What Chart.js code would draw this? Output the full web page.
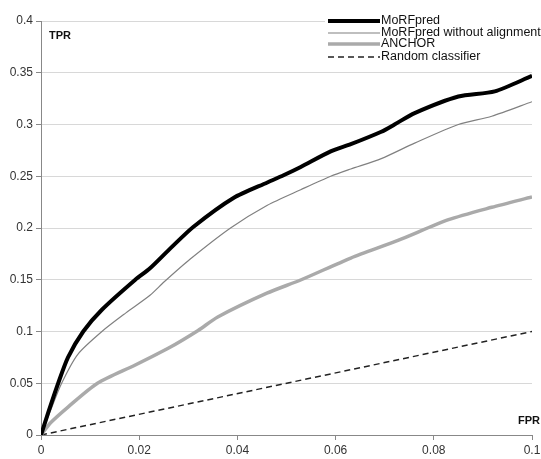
<!DOCTYPE html>
<html>
<head>
<meta charset="utf-8">
<script src="https://cdn.jsdelivr.net/npm/chart.js@4.4.1/dist/chart.umd.min.js"></script>
<style>
  body { margin: 0; background: #fff; }
  canvas { display: block; }
</style>
</head>
<body>
<canvas id="rocChart" width="541" height="459"></canvas>
<script>
// Values (FPR on x, TPR on y)
const seriesNames = ['MoRFpred', 'MoRFpred without alignment', 'ANCHOR', 'Random classifier'];

const morfFpr = [0, 0.0015, 0.0035, 0.0055, 0.0086, 0.0124, 0.0192, 0.0222, 0.0265, 0.031, 0.0392, 0.0461, 0.0494, 0.0529, 0.059, 0.0631, 0.0693, 0.072, 0.0761, 0.085, 0.0924, 0.1];
const morfTpr = [0, 0.022, 0.05, 0.075, 0.10, 0.121, 0.15, 0.161, 0.181, 0.201, 0.229, 0.244, 0.251, 0.259, 0.274, 0.281, 0.293, 0.30, 0.311, 0.327, 0.332, 0.347];

const noAlignFpr = [0, 0.0018, 0.0042, 0.0075, 0.0124, 0.0173, 0.0222, 0.0251, 0.0304, 0.0386, 0.0461, 0.0529, 0.059, 0.0631, 0.0693, 0.0761, 0.085, 0.0918, 0.1];
const noAlignTpr = [0, 0.022, 0.05, 0.078, 0.10, 0.118, 0.135, 0.148, 0.170, 0.20, 0.222, 0.237, 0.25, 0.257, 0.267, 0.282, 0.30, 0.308, 0.322];

const anchorFpr = [0, 0.002, 0.0055, 0.0115, 0.0192, 0.026, 0.032, 0.036, 0.046, 0.053, 0.0631, 0.0727, 0.083, 0.0918, 0.1];
const anchorTpr = [0, 0.012, 0.027, 0.05, 0.0676, 0.084, 0.101, 0.114, 0.137, 0.150, 0.171, 0.188, 0.208, 0.220, 0.230];

const randomFpr = [0, 0.1];
const randomTpr = [0, 0.1];

const xTicks = [0, 0.02, 0.04, 0.06, 0.08, 0.1];
const yTicks = [0, 0.05, 0.1, 0.15, 0.2, 0.25, 0.3, 0.35, 0.4];

function toPoints(xs, ys) {
    return xs.map((x, i) => ({ x: x, y: ys[i] }));
}

const fmt = v => parseFloat(Number(v).toFixed(2)).toString();

// Legend + axis captions drawn by hand to sit like the original
const chartExtras = {
    id: 'chartExtras',
    afterDraw(chart) {
        const ctx = chart.ctx;
        ctx.save();
        ctx.fillStyle = '#fff';
        ctx.fillRect(325, 13, 216, 50);

        const rowsY = [21, 33, 44, 57];
        chart.data.datasets.forEach((ds, i) => {
            const y = rowsY[i];
            ctx.beginPath();
            ctx.strokeStyle = ds.borderColor;
            ctx.lineWidth = ds.borderWidth;
            ctx.setLineDash(ds.borderDash || []);
            ctx.moveTo(328, y);
            ctx.lineTo(380, y);
            ctx.stroke();
            ctx.setLineDash([]);
            ctx.fillStyle = '#111';
            ctx.font = '12.5px "Liberation Sans", Arial, sans-serif';
            ctx.textBaseline = 'middle';
            ctx.textAlign = 'left';
            ctx.fillText(ds.label, 381, y);
        });

        ctx.fillStyle = '#111';
        ctx.font = 'bold 11px "Liberation Sans", Arial, sans-serif';
        ctx.textBaseline = 'alphabetic';
        ctx.fillText('TPR', 49, 39);
        ctx.fillText('FPR', 518, 424);
        ctx.restore();
    }
};

const ctx = document.getElementById('rocChart').getContext('2d');

const rocChart = new Chart(ctx, {
    type: 'line',
    data: {
        datasets: [
            {
                label: seriesNames[0],
                data: toPoints(morfFpr, morfTpr),
                borderColor: '#000',
                borderWidth: 4,
                pointRadius: 0,
                tension: 0.25
            },
            {
                label: seriesNames[1],
                data: toPoints(noAlignFpr, noAlignTpr),
                borderColor: '#808080',
                borderWidth: 1.2,
                pointRadius: 0,
                tension: 0.25
            },
            {
                label: seriesNames[2],
                data: toPoints(anchorFpr, anchorTpr),
                borderColor: '#aaaaaa',
                borderWidth: 3.5,
                pointRadius: 0,
                tension: 0.25
            },
            {
                label: seriesNames[3],
                data: toPoints(randomFpr, randomTpr),
                borderColor: '#222',
                borderWidth: 1.5,
                borderDash: [6, 4],
                pointRadius: 0
            }
        ]
    },
    options: {
        responsive: false,
        animation: false,
        layout: {
            padding: { top: 21, right: 9, left: 0, bottom: 0 }
        },
        scales: {
            x: {
                type: 'linear',
                min: 0,
                max: 0.1,
                afterFit: scale => {
                    scale.height = 24;
                    scale.paddingRight = 0;
                    scale.paddingLeft = 0;
                },
                afterBuildTicks: scale => { scale.ticks = xTicks.map(v => ({ value: v })); },
                ticks: {
                    callback: v => fmt(v),
                    color: '#333',
                    padding: 3,
                    maxRotation: 0,
                    font: { family: '"Liberation Sans", Arial, sans-serif', size: 12 }
                },
                grid: {
                    drawOnChartArea: false,
                    drawTicks: true,
                    tickLength: 5,
                    tickColor: '#888'
                },
                border: { color: '#888', width: 1 }
            },
            y: {
                min: 0,
                max: 0.4,
                afterFit: scale => { scale.width = 41; },
                afterBuildTicks: scale => { scale.ticks = yTicks.map(v => ({ value: v })); },
                ticks: {
                    callback: v => fmt(v),
                    color: '#333',
                    padding: 3,
                    font: { family: '"Liberation Sans", Arial, sans-serif', size: 12 }
                },
                grid: {
                    color: '#d8d8d8',
                    tickLength: 5,
                    tickColor: '#888'
                },
                border: { color: '#888', width: 1 }
            }
        },
        plugins: {
            legend: { display: false },
            tooltip: { enabled: false }
        }
    },
    plugins: [chartExtras]
});
</script>
</body>
</html>
